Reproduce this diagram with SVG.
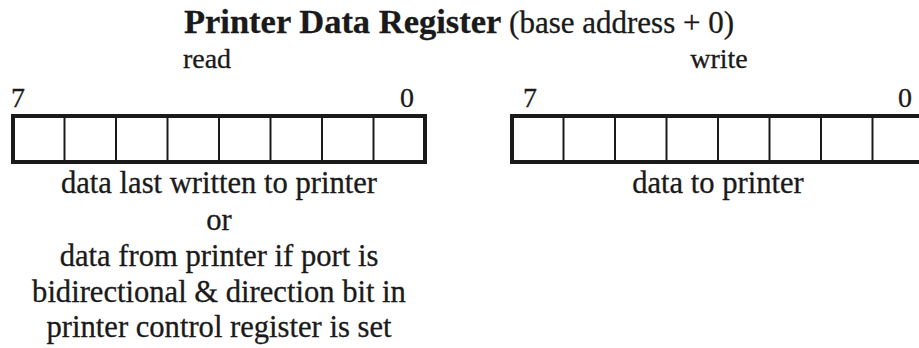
<svg xmlns="http://www.w3.org/2000/svg" width="919" height="348" viewBox="0 0 919 348">
  <style>
    text { font-family: "Liberation Serif", "Times New Roman", serif; fill: #1a1a1a; stroke: #1a1a1a; stroke-width: 0.3; }
    .title { font-size: 34.5px; font-weight: bold; }
    .sub { font-size: 31px; font-weight: normal; }
    .mode { font-size: 28px; text-anchor: middle; }
    .bit { font-size: 28px; }
    .desc { font-size: 30.6px; text-anchor: middle; }
    .frame { fill: #ffffff; stroke: #1a1a1a; stroke-width: 4; }
    .cell { stroke: #1a1a1a; stroke-width: 2; }
  </style>
  <rect width="919" height="348" fill="#ffffff"/>

  <g id="title">
    <text x="459" y="33" text-anchor="middle"><tspan class="title">Printer Data Register</tspan><tspan class="sub"> (base address + 0)</tspan></text>
  </g>

  <!-- read side: 8-bit register, bit 7 on the left -->
  <g id="read-register">
    <text class="mode" x="207" y="68">read</text>
    <text class="bit" x="11" y="107">7</text>
    <text class="bit" x="414" y="107" text-anchor="end">0</text>
    <rect class="frame" x="13" y="116" width="412" height="46"/>
    <g class="cell">
      <line x1="64.5" y1="116" x2="64.5" y2="162"/>
      <line x1="116" y1="116" x2="116" y2="162"/>
      <line x1="167.5" y1="116" x2="167.5" y2="162"/>
      <line x1="219" y1="116" x2="219" y2="162"/>
      <line x1="270.5" y1="116" x2="270.5" y2="162"/>
      <line x1="322" y1="116" x2="322" y2="162"/>
      <line x1="373.5" y1="116" x2="373.5" y2="162"/>
    </g>
    <text class="desc" x="219" y="193">data last written to printer</text>
    <text class="desc" x="219" y="230">or</text>
    <text class="desc" x="219" y="266">data from printer if port is</text>
    <text class="desc" x="219" y="302">bidirectional &amp; direction bit in</text>
    <text class="desc" x="219" y="337">printer control register is set</text>
  </g>

  <!-- write side: 8-bit register, runs off the right edge -->
  <g id="write-register">
    <text class="mode" x="719" y="68">write</text>
    <text class="bit" x="523" y="107">7</text>
    <text class="bit" x="912" y="107" text-anchor="end">0</text>
    <rect class="frame" x="512" y="116" width="412" height="46"/>
    <g class="cell">
      <line x1="563.5" y1="116" x2="563.5" y2="162"/>
      <line x1="615" y1="116" x2="615" y2="162"/>
      <line x1="666.5" y1="116" x2="666.5" y2="162"/>
      <line x1="718" y1="116" x2="718" y2="162"/>
      <line x1="769.5" y1="116" x2="769.5" y2="162"/>
      <line x1="821" y1="116" x2="821" y2="162"/>
      <line x1="872.5" y1="116" x2="872.5" y2="162"/>
    </g>
    <text class="desc" x="718" y="193">data to printer</text>
  </g>

  <g id="connectors"/>
</svg>
